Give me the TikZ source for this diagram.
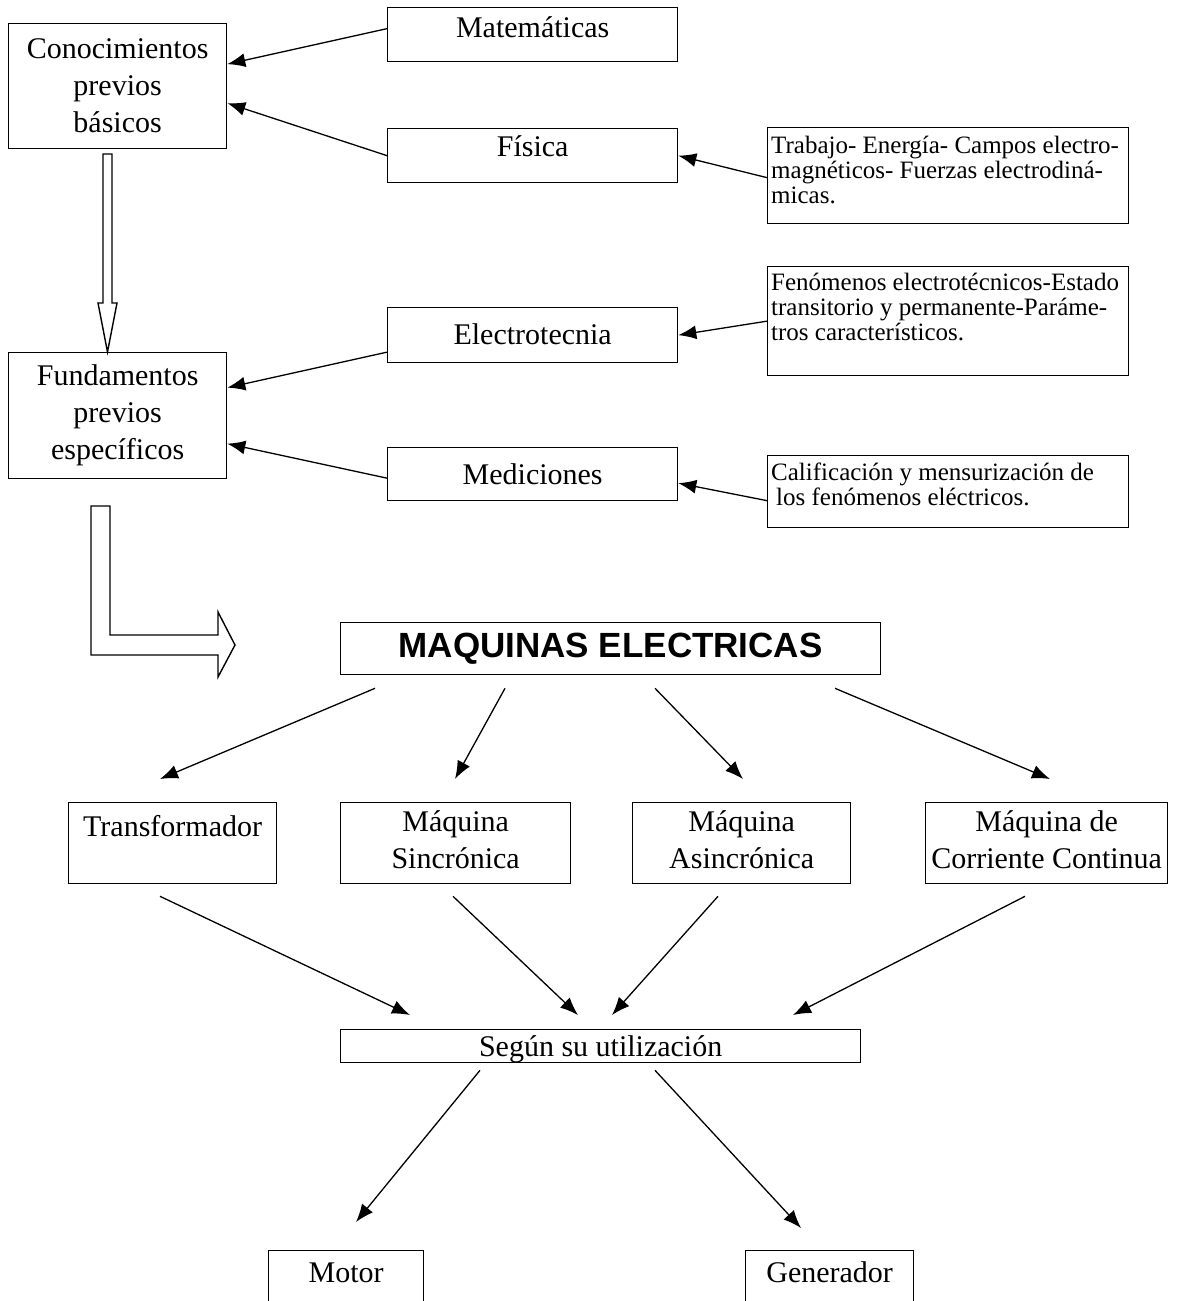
\documentclass[tikz,border=0pt]{standalone}
\usepackage{fontspec}
\setmainfont{Liberation Serif}
\newfontfamily\rotulo{Liberation Sans}
\usetikzlibrary{arrows.meta}

\begin{document}
\begin{tikzpicture}[x=1pt,y=-1pt,
  caja/.style={draw,line width=1.3pt,inner sep=0pt,anchor=north west},
  texto/.style={font=\fontsize{30}{37}\selectfont,align=center,inner sep=0pt},
  nota/.style={font=\fontsize{25}{25}\selectfont,align=left,inner sep=0pt,anchor=north west},
  flecha/.style={-{Latex[length=18pt,width=14pt]},line width=1.3pt},
  hueca/.style={draw,line width=1.4pt,line join=miter}]
  \clip (0,0) rectangle (1179,1301);
  \fill[white] (0,0) rectangle (1179,1301);

  \node[caja,texto,minimum width=218,minimum height=125] (cono) at (8,23) {Conocimientos\\previos\\básicos};
  \node[caja,texto,minimum width=218,minimum height=126] (fund) at (8,352) {Fundamentos\\previos\\específicos};

  \node[caja,minimum width=290,minimum height=54] (mate) at (387,7) {};
  \node[texto,anchor=base] (mateT) at ([yshift=-30pt]mate.north) {Matemáticas};
  \node[caja,minimum width=290,minimum height=54] (fisi) at (387,128) {};
  \node[texto,anchor=base] (fisiT) at ([yshift=-28pt]fisi.north) {Física};
  \node[caja,minimum width=290,minimum height=55] (elec) at (387,307) {};
  \node[texto,anchor=base] (elecT) at ([yshift=-37pt]elec.north) {Electrotecnia};
  \node[caja,minimum width=290,minimum height=53] (medi) at (387,447) {};
  \node[texto,anchor=base] (mediT) at ([yshift=-37pt]medi.north) {Mediciones};

  \node[caja,minimum width=361,minimum height=96] (trab) at (767,127) {};
  \node[nota] (trabT) at ([shift={(4pt,-9pt)}]trab.north west) {Trabajo- Energía- Campos electro-\\magnéticos- Fuerzas electrodiná-\\micas.};
  \node[caja,minimum width=361,minimum height=109] (feno) at (767,266) {};
  \node[nota] (fenoT) at ([shift={(4pt,-7pt)}]feno.north west) {Fenómenos electrotécnicos-Estado\\transitorio y permanente-Paráme-\\tros característicos.};
  \node[caja,minimum width=361,minimum height=72] (cali) at (767,455) {};
  \node[nota] (caliT) at ([shift={(4pt,-8pt)}]cali.north west) {Calificación y mensurización de\\\hspace*{5pt}los fenómenos eléctricos.};

  \draw[flecha] ([yshift=6pt]mate.west) -- ([yshift=22pt]cono.east);
  \draw[flecha] (fisi.west) -- ([yshift=-17pt]cono.east);
  \draw[flecha] ([yshift=-2pt]trab.west) -- (fisi.east);
  \draw[flecha] (feno.west) -- (elec.east);
  \draw[flecha] ([yshift=-17pt]elec.west) -- ([yshift=28pt]fund.east);
  \draw[flecha] ([yshift=-4pt]medi.west) -- ([yshift=-28pt]fund.east);
  \draw[flecha] ([yshift=-9pt]cali.west) -- ([yshift=-9pt]medi.east);

  \draw[hueca] (103,154) -- (112,154) -- (112,303) -- (117,303) -- (107.5,352) -- (98,303) -- (103,303) -- cycle;
  \draw[hueca] (91,506) -- (110,506) -- (110,635) -- (218,635) -- (218,612) -- (235,645) -- (218,677) -- (218,655) -- (91,655) -- cycle;

  \node[caja,minimum width=540,minimum height=52,font=\rotulo\bfseries\fontsize{35}{42}\selectfont] (maq) at (340,622) {MAQUINAS ELECTRICAS};

  \node[caja,minimum width=208,minimum height=81] (tran) at (68,802) {};
  \node[texto,anchor=base] (tranT) at ([yshift=-34pt]tran.north) {Transformador};
  \node[caja,minimum width=230,minimum height=81] (sinc) at (340,802) {};
  \node[texto,anchor=north] (sincT) at ([yshift=-8pt]sinc.north) {Máquina\\Sincrónica};
  \node[caja,minimum width=218,minimum height=81] (asin) at (632,802) {};
  \node[texto,anchor=north] (asinT) at ([yshift=-8pt]asin.north) {Máquina\\Asincrónica};
  \node[caja,minimum width=242,minimum height=81] (cont) at (925,802) {};
  \node[texto,anchor=north] (contT) at ([yshift=-8pt]cont.north) {Máquina de\\Corriente Continua};

  \draw[flecha] ([shift={(35pt,-13pt)}]maq.south west) -- ([shift={(92pt,23pt)}]tran.north west);
  \draw[flecha] ([shift={(165pt,-13pt)}]maq.south west) -- ([shift={(115pt,23pt)}]sinc.north west);
  \draw[flecha] ([shift={(315pt,-13pt)}]maq.south west) -- ([shift={(111pt,23pt)}]asin.north west);
  \draw[flecha] ([shift={(495pt,-13pt)}]maq.south west) -- ([shift={(125pt,23pt)}]cont.north west);

  \node[caja,minimum width=520,minimum height=33] (segu) at (340,1029) {};
  \node[texto,anchor=base] (seguT) at ([yshift=-27pt]segu.north) {Según su utilización};

  \draw[flecha] ([shift={(92pt,-12pt)}]tran.south west) -- ([shift={(70pt,14pt)}]segu.north west);
  \draw[flecha] ([shift={(113pt,-12pt)}]sinc.south west) -- ([shift={(238pt,14pt)}]segu.north west);
  \draw[flecha] ([shift={(86pt,-12pt)}]asin.south west) -- ([shift={(272pt,14pt)}]segu.north west);
  \draw[flecha] ([shift={(100pt,-12pt)}]cont.south west) -- ([shift={(453pt,14pt)}]segu.north west);

  \node[caja,minimum width=155,minimum height=80] (moto) at (268,1250) {};
  \node[texto,anchor=base] (motoT) at ([yshift=-32pt]moto.north) {Motor};
  \node[caja,minimum width=168,minimum height=80] (gene) at (745,1250) {};
  \node[texto,anchor=base] (geneT) at ([yshift=-32pt]gene.north) {Generador};

  \draw[flecha] ([shift={(140pt,-7pt)}]segu.south west) -- ([shift={(88pt,28pt)}]moto.north west);
  \draw[flecha] ([shift={(315pt,-7pt)}]segu.south west) -- ([shift={(56pt,22pt)}]gene.north west);
\end{tikzpicture}
\end{document}
